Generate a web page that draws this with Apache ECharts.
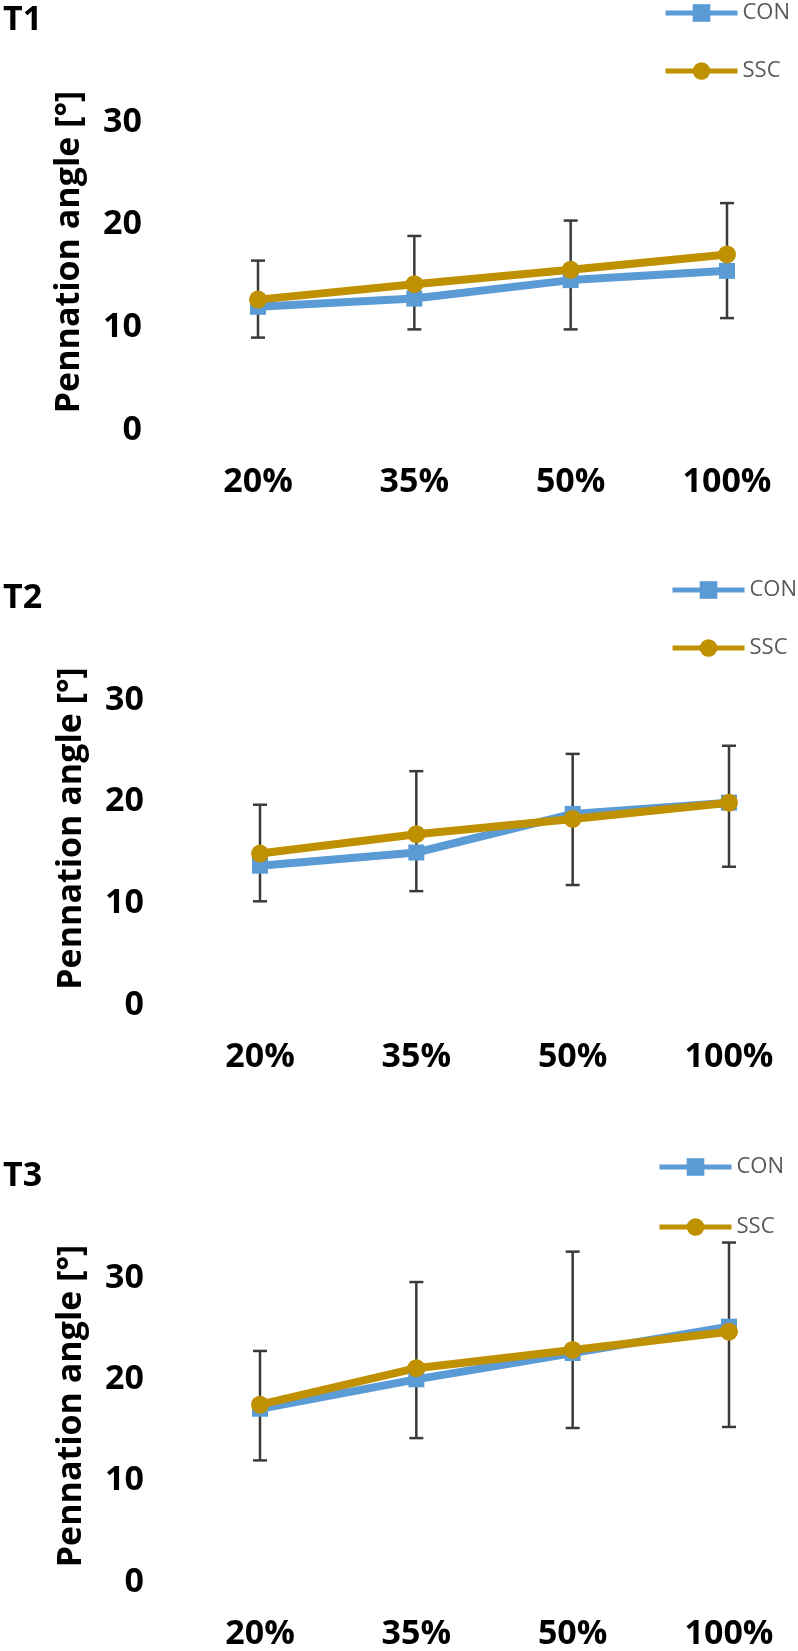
<!DOCTYPE html>
<html>
<head>
<meta charset="utf-8">
<script src="https://cdn.jsdelivr.net/npm/echarts@6/dist/echarts.min.js"></script>
<style>
html, body { margin: 0; padding: 0; background: #fff; }
#main { width: 798px; height: 1651px; }
</style>
</head>
<body>
<div id="main"></div>
<script>
'use strict'
// pennation angle, three time points T1..T3, CON vs SSC with error bars

var categories = ['20%', '35%', '50%', '100%'];
var panel_names = ['T1', 'T2', 'T3'];
var series_names = ['CON', 'SSC'];
var y_ticks = [0, 10, 20, 30];

var t1_con = [12.0, 12.8, 14.6, 15.5];
var t1_ssc = [12.7, 14.2, 15.6, 17.1];
var t1_err_high = [16.5, 18.9, 20.4, 22.1];
var t1_err_low = [9.0, 9.8, 9.8, 10.9];

var t2_con = [13.7, 15.0, 18.8, 19.9];
var t2_ssc = [14.9, 16.8, 18.3, 19.9];
var t2_err_high = [19.7, 23.0, 24.7, 25.5];
var t2_err_low = [10.2, 11.2, 11.8, 13.6];

var t3_con = [17.1, 20.0, 22.6, 25.2];
var t3_ssc = [17.5, 21.1, 22.9, 24.7];
var t3_err_high = [22.8, 29.6, 32.6, 33.5];
var t3_err_low = [12.0, 14.2, 15.2, 15.3];

var colors = ['#5b9bd5', '#bf9000'];
var font = '"Open Sans", "DejaVu Sans", sans-serif';

var panels = [
    { con: t1_con, ssc: t1_ssc, hi: t1_err_high, lo: t1_err_low },
    { con: t2_con, ssc: t2_ssc, hi: t2_err_high, lo: t2_err_low },
    { con: t3_con, ssc: t3_ssc, hi: t3_err_high, lo: t3_err_low }
];

// layout
var grids = [
    { left: 258, top: 122, width: 469, height: 308 },
    { left: 260, top: 700, width: 469, height: 305 },
    { left: 260, top: 1278, width: 469, height: 307 }
];
var title_tops = [3, 581, 1159];
var legend_pos = [
    { left: 663, top: 2, gap: 36 },
    { left: 670, top: 579, gap: 36 },
    { left: 657, top: 1156, gap: 38 }
];

function renderErrorBar(params, api) {
    var x = api.value(0);
    var top = api.coord([x, api.value(2)]);
    var bottom = api.coord([x, api.value(1)]);
    var half = 7;
    var style = { stroke: '#3a3a3a', lineWidth: 2.5 };
    return {
        type: 'group',
        children: [
            { type: 'line', shape: { x1: top[0], y1: top[1], x2: bottom[0], y2: bottom[1] }, style: style },
            { type: 'line', shape: { x1: top[0] - half, y1: top[1], x2: top[0] + half, y2: top[1] }, style: style },
            { type: 'line', shape: { x1: bottom[0] - half, y1: bottom[1], x2: bottom[0] + half, y2: bottom[1] }, style: style }
        ]
    };
}

var option = {
    animation: false,
    backgroundColor: '#fff',
    textStyle: { fontFamily: font },
    title: [],
    legend: [],
    grid: [],
    xAxis: [],
    yAxis: [],
    series: []
};

panels.forEach(function (p, i) {
    option.title.push({
        text: panel_names[i],
        left: 3,
        top: title_tops[i],
        padding: 0,
        textStyle: { fontFamily: font, fontSize: 34, fontWeight: 'bold', color: '#000', lineHeight: 34 }
    });
    option.legend.push({
        data: series_names,
        orient: 'vertical',
        left: legend_pos[i].left,
        top: legend_pos[i].top,
        padding: 0,
        itemWidth: 72,
        itemHeight: 22,
        itemGap: legend_pos[i].gap,
        selectedMode: false,
        lineStyle: { width: 5 },
        textStyle: { fontFamily: font, fontSize: 22, color: '#595959', lineHeight: 22 }
    });
    option.grid.push(Object.assign({ containLabel: false }, grids[i]));
    option.xAxis.push({
        type: 'category',
        gridIndex: i,
        data: categories,
        boundaryGap: false,
        axisLine: { show: false },
        axisTick: { show: false },
        splitLine: { show: false },
        axisLabel: { interval: 0, margin: 35, fontFamily: font, fontSize: 34, fontWeight: 'bold', color: '#000' }
    });
    option.yAxis.push({
        type: 'value',
        gridIndex: i,
        min: y_ticks[0],
        max: y_ticks[y_ticks.length - 1],
        interval: y_ticks[1] - y_ticks[0],
        axisLine: { show: false },
        axisTick: { show: false },
        splitLine: { show: false },
        axisLabel: { margin: 116, fontFamily: font, fontSize: 34, fontWeight: 'bold', color: '#000' },
        name: 'Pennation angle [°]',
        nameLocation: 'middle',
        nameGap: 172,
        nameTextStyle: { fontFamily: font, fontSize: 34, fontWeight: 'bold', color: '#000', lineHeight: 34, padding: [0, 0, 0, 48] }
    });
    option.series.push({
        type: 'custom',
        xAxisIndex: i,
        yAxisIndex: i,
        clip: false,
        z: 1,
        silent: true,
        renderItem: renderErrorBar,
        encode: { x: 0, y: [1, 2] },
        data: categories.map(function (c, k) { return [k, p.lo[k], p.hi[k]]; })
    });
    option.series.push({
        name: 'CON',
        type: 'line',
        xAxisIndex: i,
        yAxisIndex: i,
        z: 3,
        symbol: 'rect',
        symbolSize: 16,
        color: colors[0],
        lineStyle: { width: 8, color: colors[0] },
        itemStyle: { color: colors[0] },
        emphasis: { disabled: true },
        data: p.con
    });
    option.series.push({
        name: 'SSC',
        type: 'line',
        xAxisIndex: i,
        yAxisIndex: i,
        z: 3,
        symbol: 'circle',
        symbolSize: 18,
        color: colors[1],
        lineStyle: { width: 8, color: colors[1] },
        itemStyle: { color: colors[1] },
        emphasis: { disabled: true },
        data: p.ssc
    });
});

var myChart = echarts.init(document.getElementById('main'));
myChart.setOption(option);
</script>
</body>
</html>
